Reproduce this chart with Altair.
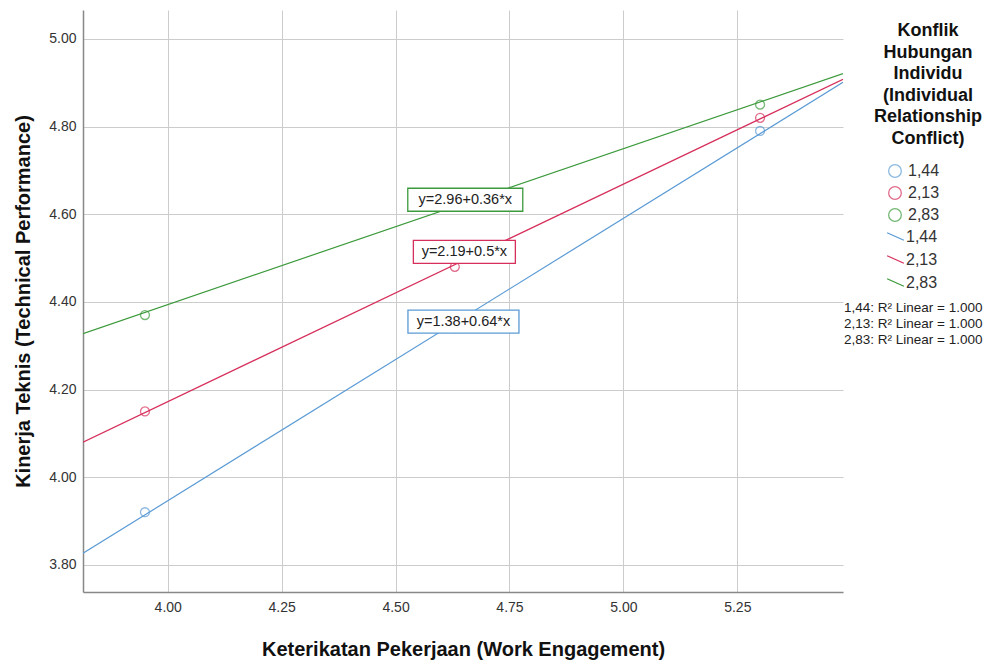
import altair as alt
import pandas as pd

# ---- data ----
groups = ["1,44", "2,13", "2,83"]
colors = ["#5b9bd5", "#d62f5b", "#3c9a3c"]
x_vals = [3.95, 4.63, 5.30]
y_blue = [3.92, 4.34, 4.79]
y_red = [4.15, 4.48, 4.82]
y_green = [4.37, 4.63, 4.85]

eq_labels = ["y=1.38+0.64*x", "y=2.19+0.5*x", "y=2.96+0.36*x"]
eq_x = [4.649, 4.651, 4.653]
eq_y = [4.355, 4.514, 4.633]
eq_w = [111, 102, 115]

legend_title = ["Konflik", "Hubungan", "Individu", "(Individual", "Relationship", "Conflict)"]
r2_lines = ["1,44: R² Linear = 1.000", "2,13: R² Linear = 1.000", "2,83: R² Linear = 1.000"]

x_domain = [3.814, 5.482]
y_domain = [3.738, 5.066]
x_ticks = [4.00, 4.25, 4.50, 4.75, 5.00, 5.25]
y_ticks = [3.80, 4.00, 4.20, 4.40, 4.60, 4.80, 5.00]

rows = []
for g, ys in zip(groups, [y_blue, y_red, y_green]):
    for xv, yv in zip(x_vals, ys):
        rows.append({"x": xv, "y": yv, "g": g})
df = pd.DataFrame(rows)

FONT = "Liberation Sans"

xs = alt.Scale(domain=x_domain, nice=False, zero=False)
ys_ = alt.Scale(domain=y_domain, nice=False, zero=False)

x_axis = alt.Axis(values=x_ticks, format=".2f", title="Keterikatan Pekerjaan (Work Engagement)",
                  grid=True, ticks=False, labelPadding=8, titlePadding=25)
y_axis = alt.Axis(values=y_ticks, format=".2f", title="Kinerja Teknis (Technical Performance)",
                  grid=True, ticks=False, labelPadding=7, titlePadding=15)

base = alt.Chart(df)

lines = base.transform_regression("x", "y", groupby=["g"], extent=x_domain).mark_line(
    strokeWidth=1.2, clip=True
).encode(
    x=alt.X("x:Q", scale=xs, axis=x_axis),
    y=alt.Y("y:Q", scale=ys_, axis=y_axis),
    color=alt.Color("g:N", scale=alt.Scale(domain=groups, range=colors),
                    legend=alt.Legend(title=None, orient="none", legendX=803, legendY=217,
                                      symbolType="M-1,-0.45L1,0.45", symbolSize=280,
                                      symbolStrokeWidth=1.3, labelFontSize=16, labelFont=FONT,
                                      labelColor="#333333", rowPadding=5, symbolOffset=0,
                                      labelOffset=1)),
)

points = base.mark_point(shape="circle", filled=False, size=80, strokeWidth=1.3).encode(
    x=alt.X("x:Q", scale=xs),
    y=alt.Y("y:Q", scale=ys_),
    color=alt.Color("g:N", scale=alt.Scale(domain=groups, range=colors),
                    legend=alt.Legend(title=None, orient="none", legendX=804, legendY=153,
                                      symbolSize=160, symbolStrokeWidth=1.3, symbolOffset=0,
                                      labelFontSize=16, labelFont=FONT, labelColor="#333333",
                                      rowPadding=4, labelOffset=5)),
)

title_df = pd.DataFrame({"t": ["\n".join(legend_title)]})
title_txt = alt.Chart(title_df).mark_text(font=FONT, fontSize=18, fontWeight="bold", color="#111111",
                                          align="center", baseline="top", lineBreak="\n",
                                          lineHeight=21.5).encode(
    x=alt.value(845), y=alt.value(12), text="t:N")

label_layers = []
for lab, lx, ly, lw, c in zip(eq_labels, eq_x, eq_y, eq_w, colors):
    ldf = pd.DataFrame({"x": [lx], "y": [ly], "t": [lab]})
    box = alt.Chart(ldf).mark_rect(width=lw, height=23, fill="white", stroke=c, strokeWidth=1.3).encode(
        x=alt.X("x:Q", scale=xs), y=alt.Y("y:Q", scale=ys_))
    txt = alt.Chart(ldf).mark_text(font=FONT, fontSize=14.5, color="#222222").encode(
        x=alt.X("x:Q", scale=xs), y=alt.Y("y:Q", scale=ys_), text="t:N")
    label_layers += [box, txt]

r2df = pd.DataFrame({"t": ["\n".join(r2_lines)]})
r2 = alt.Chart(r2df).mark_text(font=FONT, fontSize=13.5, color="#222222", align="left", baseline="top",
                               lineBreak="\n", lineHeight=16).encode(
    x=alt.value(761),
    y=alt.value(291),
    text="t:N",
)

chart = alt.layer(lines, points, *label_layers, r2, title_txt).resolve_scale(
    color="independent"
).properties(
    width=760, height=582, background="white",
    padding={"left": 5, "top": 2, "right": 5, "bottom": 5}
).configure_view(stroke=None).configure_axis(
    labelFont=FONT, labelFontSize=14, labelColor="#333333",
    titleFont=FONT, titleFontSize=20, titleColor="#111111", titleFontWeight="bold",
    gridColor="#cccccc", gridWidth=1, domainColor="#888888", domainWidth=1.5,
)

chart.save("out.html", embed_options={"renderer": "svg", "actions": False})
